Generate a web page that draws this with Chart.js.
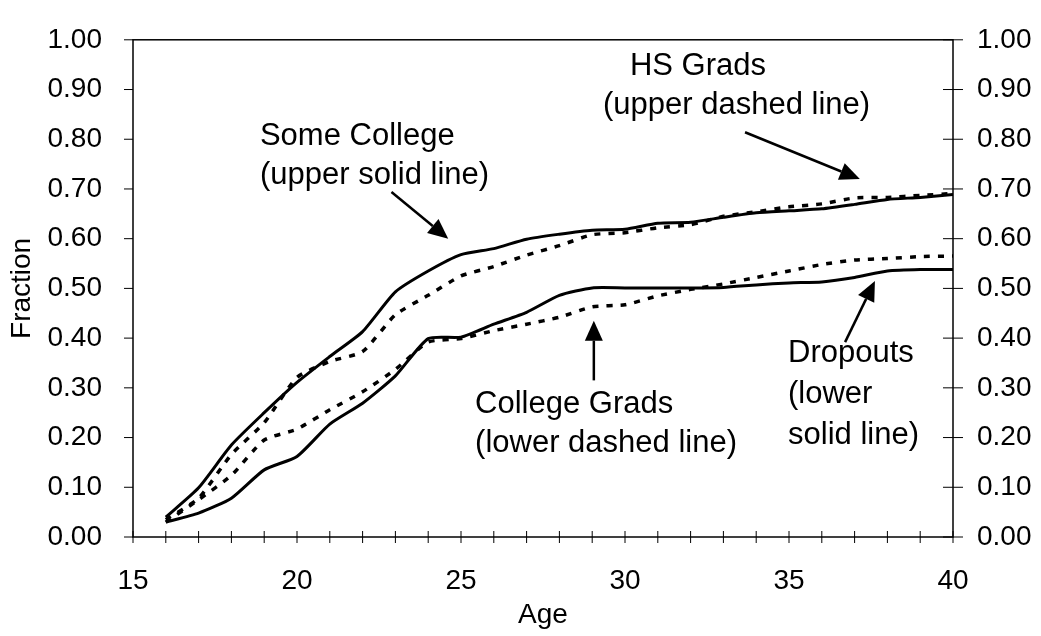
<!DOCTYPE html>
<html>
<head>
<meta charset="utf-8">
<script src="https://cdn.jsdelivr.net/npm/chart.js@4/dist/chart.umd.min.js"></script>
<style>
  html, body { margin: 0; padding: 0; background: #fff; }
  #wrap { width: 1041px; height: 636px; position: relative; }
</style>
</head>
<body>
<div id="wrap"><canvas id="fractionChart"></canvas></div>
<script>
var ages = [16, 17, 18, 19, 20, 21, 22, 23, 24, 25, 26, 27, 28, 29, 30, 31, 32, 33, 34, 35, 36, 37, 38, 39, 40];

var someCollege = [0.040, 0.099, 0.185, 0.250, 0.311, 0.363, 0.413, 0.493, 0.535, 0.568, 0.580, 0.599, 0.609,
                   0.617, 0.619, 0.631, 0.633, 0.643, 0.652, 0.656, 0.660, 0.669, 0.679, 0.683, 0.689];
var hsGrads = [0.035, 0.078, 0.166, 0.230, 0.321, 0.353, 0.373, 0.447, 0.486, 0.525, 0.544, 0.567, 0.586,
               0.608, 0.612, 0.622, 0.628, 0.645, 0.654, 0.664, 0.670, 0.682, 0.683, 0.687, 0.691];
var collegeGrads = [0.030, 0.075, 0.124, 0.195, 0.217, 0.256, 0.292, 0.337, 0.392, 0.399, 0.415, 0.428, 0.442,
                    0.463, 0.467, 0.485, 0.498, 0.509, 0.522, 0.535, 0.548, 0.557, 0.560, 0.564, 0.565];
var dropouts = [0.030, 0.048, 0.078, 0.135, 0.162, 0.227, 0.269, 0.324, 0.399, 0.402, 0.428, 0.452, 0.486,
                0.501, 0.501, 0.501, 0.501, 0.502, 0.507, 0.511, 0.513, 0.522, 0.535, 0.538, 0.538];

// callout texts and arrows, placed in (age, fraction) units
var notes = [
  { x: 18.87, y: 0.806, text: 'Some College' },
  { x: 18.87, y: 0.728, text: '(upper solid line)' },
  { x: 30.15, y: 0.946, text: 'HS Grads' },
  { x: 29.33, y: 0.868, text: '(upper dashed line)' },
  { x: 25.43, y: 0.267, text: 'College Grads' },
  { x: 25.43, y: 0.188, text: '(lower dashed line)' },
  { x: 34.97, y: 0.369, text: 'Dropouts' },
  { x: 34.97, y: 0.287, text: '(lower' },
  { x: 34.97, y: 0.205, text: 'solid line)' }
];
var arrows = [
  { from: [22.88, 0.694], to: [24.61, 0.600] },
  { from: [33.66, 0.814], to: [37.16, 0.720] },
  { from: [29.05, 0.315], to: [29.05, 0.435] },
  { from: [36.71, 0.392], to: [37.62, 0.515] }
];

var FONT = '"Liberation Sans", Arial, sans-serif';

function toPoints(vals) {
  return ages.map(function (a, i) { return { x: a, y: vals[i] }; });
}

function lineSet(label, vals, dashed) {
  return {
    label: label,
    data: toPoints(vals),
    borderColor: '#000',
    borderWidth: dashed ? 3.5 : 3,
    borderDash: dashed ? [6, 8] : [],
    pointRadius: 0,
    tension: 0.2,
    fill: false
  };
}

var extras = {
  id: 'extras',
  afterDraw: function (chart) {
    var ctx = chart.ctx;
    var xs = chart.scales.x, yl = chart.scales.y, yr = chart.scales.y2;
    var area = chart.chartArea;
    ctx.save();
    ctx.strokeStyle = '#000';
    ctx.lineWidth = 1.5;
    ctx.strokeRect(area.left, area.top, area.right - area.left, area.bottom - area.top);

    // tick marks: crossing on the bottom and right axes, outside on the left
    ctx.lineWidth = 1;
    ctx.beginPath();
    for (var a = 15; a <= 40; a++) {
      var px = xs.getPixelForValue(a);
      ctx.moveTo(px, area.bottom - 6);
      ctx.lineTo(px, area.bottom + 6);
    }
    for (var k = 0; k <= 10; k++) {
      var py = yl.getPixelForValue(k / 10);
      ctx.moveTo(area.left - 9, py);
      ctx.lineTo(area.left, py);
      var pr = yr.getPixelForValue(k / 10);
      ctx.moveTo(area.right - 10, pr);
      ctx.lineTo(area.right + 10, pr);
    }
    ctx.stroke();

    ctx.fillStyle = '#000';
    ctx.font = '31px ' + FONT;
    ctx.textAlign = 'left';
    ctx.textBaseline = 'middle';
    notes.forEach(function (n) {
      ctx.fillText(n.text, xs.getPixelForValue(n.x), yl.getPixelForValue(n.y));
    });

    arrows.forEach(function (ar) {
      var x0 = xs.getPixelForValue(ar.from[0]), y0 = yl.getPixelForValue(ar.from[1]);
      var x1 = xs.getPixelForValue(ar.to[0]), y1 = yl.getPixelForValue(ar.to[1]);
      var ang = Math.atan2(y1 - y0, x1 - x0);
      var hl = 20, hw = 9;
      var bx = x1 - hl * Math.cos(ang), by = y1 - hl * Math.sin(ang);
      ctx.lineWidth = 2.5;
      ctx.beginPath();
      ctx.moveTo(x0, y0);
      ctx.lineTo(bx, by);
      ctx.stroke();
      ctx.beginPath();
      ctx.moveTo(x1, y1);
      ctx.lineTo(bx + hw * Math.sin(ang), by - hw * Math.cos(ang));
      ctx.lineTo(bx - hw * Math.sin(ang), by + hw * Math.cos(ang));
      ctx.closePath();
      ctx.fill();
    });
    ctx.restore();
  }
};

var fracTicks = {
  stepSize: 0.1,
  color: '#000',
  font: { family: FONT, size: 28 },
  callback: function (v) { return v.toFixed(2); }
};

new Chart(document.getElementById('fractionChart').getContext('2d'), {
  type: 'line',
  data: {
    datasets: [
      lineSet('Some College', someCollege, false),
      lineSet('HS Grads', hsGrads, true),
      lineSet('College Grads', collegeGrads, true),
      lineSet('Dropouts', dropouts, false)
    ]
  },
  options: {
    responsive: true,
    maintainAspectRatio: false,
    animation: false,
    layout: { padding: { top: 22, left: 0, right: 0, bottom: 0 } },
    plugins: {
      legend: { display: false },
      tooltip: { enabled: false }
    },
    scales: {
      x: {
        type: 'linear',
        min: 15,
        max: 40,
        grid: { display: false },
        border: { display: false },
        ticks: {
          stepSize: 1,
          autoSkip: false,
          maxRotation: 0,
          padding: 19,
          color: '#000',
          font: { family: FONT, size: 28 },
          callback: function (v) { return v % 5 === 0 ? String(v) : ''; }
        },
        title: {
          display: true,
          text: 'Age',
          color: '#000',
          font: { family: FONT, size: 28 },
          padding: { top: 0, bottom: 4 }
        },
        afterFit: function (s) { s.height = 99; }
      },
      y: {
        position: 'left',
        min: 0,
        max: 1,
        grid: { display: false },
        border: { display: false },
        ticks: Object.assign({}, fracTicks, { padding: 23 }),
        title: {
          display: true,
          text: 'Fraction',
          color: '#000',
          font: { family: FONT, size: 28 },
          padding: { top: 5, bottom: 0 }
        },
        afterFit: function (s) { s.width = 133; }
      },
      y2: {
        position: 'right',
        min: 0,
        max: 1,
        grid: { display: false },
        border: { display: false },
        ticks: Object.assign({}, fracTicks, { padding: 16 }),
        afterFit: function (s) { s.width = 88; }
      }
    }
  },
  plugins: [extras]
});
</script>
</body>
</html>
